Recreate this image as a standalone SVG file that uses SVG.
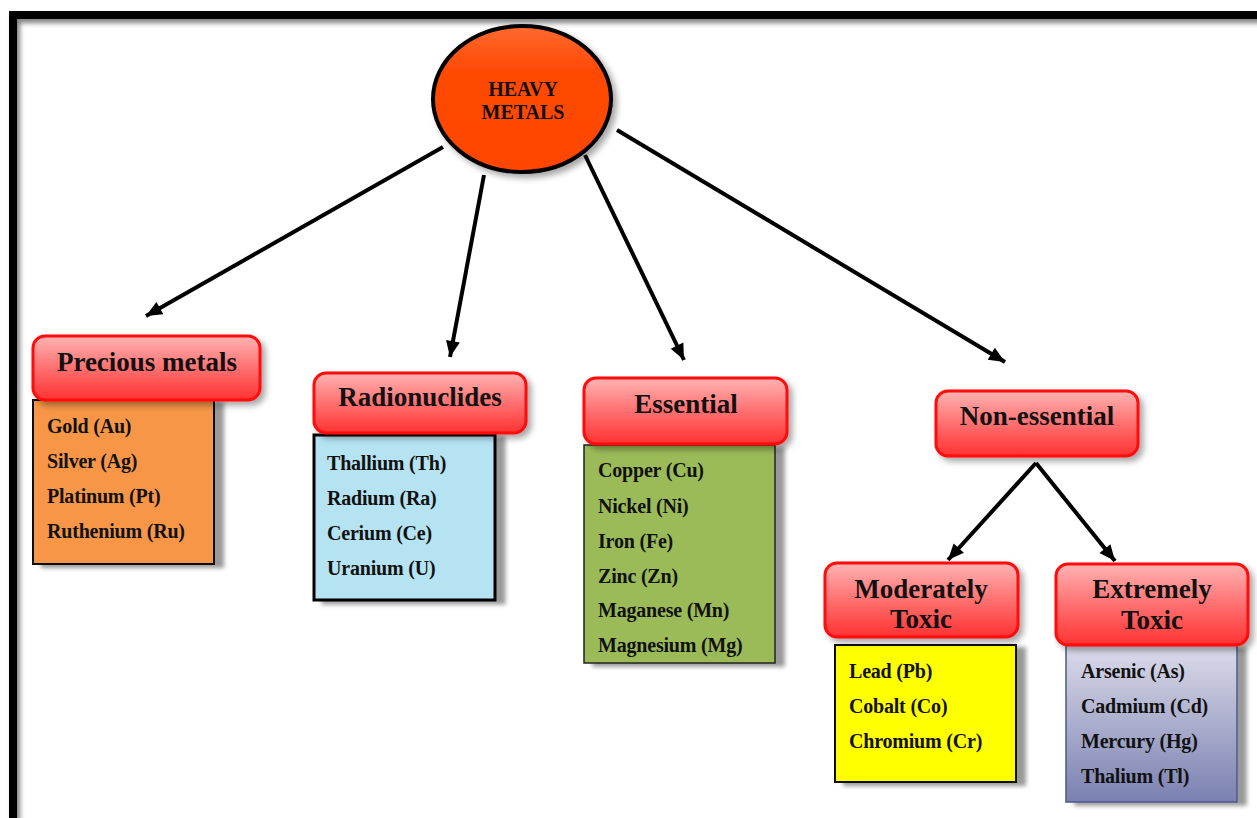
<svg xmlns="http://www.w3.org/2000/svg" width="1257" height="818" viewBox="0 0 1257 818">
<style>
.hdr{fill:url(#hdrGrad);stroke:#ff0a0a;stroke-width:3;filter:url(#sh)}
.ht{font-family:"Liberation Serif","Times New Roman",serif;font-weight:bold;font-size:27px;fill:#111;text-anchor:middle}
.it{font-family:"Liberation Serif","Times New Roman",serif;font-weight:bold;font-size:20px;fill:#111;letter-spacing:-0.2px}
.box{filter:url(#sh2)}
.con{stroke:#000;stroke-width:4;fill:none;marker-end:url(#ah)}
</style>
<defs>
<linearGradient id="hdrGrad" x1="0" y1="0" x2="0" y2="1">
<stop offset="0" stop-color="#ffb3b3"/>
<stop offset="0.5" stop-color="#ff7070"/>
<stop offset="1" stop-color="#ff3232"/>
</linearGradient>
<linearGradient id="ellGrad" x1="0" y1="0" x2="0" y2="1">
<stop offset="0" stop-color="#ff6a30"/>
<stop offset="0.3" stop-color="#ff4a05"/>
<stop offset="1" stop-color="#ff4500"/>
</linearGradient>
<linearGradient id="lavGrad" x1="0" y1="0" x2="0" y2="1">
<stop offset="0" stop-color="#dcdcea"/>
<stop offset="1" stop-color="#7a80b0"/>
</linearGradient>
<filter id="sh" x="-20%" y="-20%" width="150%" height="160%">
<feDropShadow dx="4" dy="4" stdDeviation="3" flood-color="#000" flood-opacity="0.35"/>
</filter>
<filter id="sh2" x="-20%" y="-20%" width="150%" height="150%">
<feDropShadow dx="9" dy="3" stdDeviation="2" flood-color="#000" flood-opacity="0.4"/>
</filter>
<filter id="fsh" x="-5%" y="-5%" width="110%" height="110%">
<feDropShadow dx="3" dy="4" stdDeviation="2.5" flood-color="#000" flood-opacity="0.5"/>
</filter>
<marker id="ah" markerUnits="userSpaceOnUse" markerWidth="20" markerHeight="20" viewBox="0 0 20 20" refX="18" refY="10" orient="auto">
<path d="M2,3 L18,10 L2,17 Z" fill="#000"/>
</marker>
</defs>
<rect width="1257" height="818" fill="#fff"/>
<g id="frame">
<path d="M13,818 V15 H1260" fill="none" stroke="#000" stroke-width="8" filter="url(#fsh)"/>
</g>
<g id="connectors">
<line class="con" x1="443" y1="147" x2="146" y2="316"/>
<line class="con" x1="484" y1="175" x2="450" y2="357"/>
<line class="con" x1="585" y1="155" x2="684" y2="360"/>
<line class="con" x1="617" y1="130" x2="1005" y2="362"/>
<line class="con" x1="1036" y1="463" x2="948" y2="560"/>
<line class="con" x1="1036" y1="463" x2="1115" y2="561"/>
</g>
<g id="heavy-metals">
<ellipse cx="522" cy="99" rx="89" ry="73" fill="url(#ellGrad)" stroke="#000" stroke-width="4" filter="url(#sh)"/>
<text x="523" y="96" font-family="Liberation Serif,serif" font-weight="bold" font-size="20" text-anchor="middle" fill="#111">HEAVY</text>
<text x="523" y="119" font-family="Liberation Serif,serif" font-weight="bold" font-size="20" text-anchor="middle" fill="#111">METALS</text>
</g>
<g id="precious">
<rect class="box" x="33" y="400" width="181" height="164" fill="#f79646" stroke="#111" stroke-width="2"/>
<rect class="hdr" x="33" y="336" width="227" height="64" rx="12"/>
<text class="ht" x="147" y="371">Precious metals</text>
<text class="it" x="47" y="433">Gold (Au)</text>
<text class="it" x="47" y="468">Silver (Ag)</text>
<text class="it" x="47" y="503">Platinum (Pt)</text>
<text class="it" x="47" y="538">Ruthenium (Ru)</text>
</g>
<g id="radionuclides">
<rect class="box" x="314" y="435" width="181" height="165" fill="#b5e3f2" stroke="#000" stroke-width="3"/>
<rect class="hdr" x="314" y="373" width="212" height="60" rx="12"/>
<text class="ht" x="420" y="406">Radionuclides</text>
<text class="it" x="327" y="470">Thallium (Th)</text>
<text class="it" x="327" y="505">Radium (Ra)</text>
<text class="it" x="327" y="540">Cerium (Ce)</text>
<text class="it" x="327" y="575">Uranium (U)</text>
</g>
<g id="essential">
<rect class="box" x="584" y="445" width="191" height="218" fill="#9bbb59" stroke="#222" stroke-width="1.5"/>
<rect class="hdr" x="584" y="378" width="203" height="66" rx="12"/>
<text class="ht" x="686" y="413">Essential</text>
<text class="it" x="598" y="477">Copper (Cu)</text>
<text class="it" x="598" y="513">Nickel (Ni)</text>
<text class="it" x="598" y="548">Iron (Fe)</text>
<text class="it" x="598" y="583">Zinc (Zn)</text>
<text class="it" x="598" y="617">Maganese (Mn)</text>
<text class="it" x="598" y="652">Magnesium (Mg)</text>
</g>
<g id="non-essential">
<rect class="hdr" x="936" y="391" width="202" height="65" rx="12"/>
<text class="ht" x="1037" y="425">Non-essential</text>
</g>
<g id="moderately-toxic">
<rect class="box" x="835" y="645" width="181" height="137" fill="#ffff00" stroke="#111" stroke-width="2"/>
<rect class="hdr" x="825" y="563" width="193" height="74" rx="12"/>
<text class="ht" x="921" y="598">Moderately</text>
<text class="ht" x="921" y="628">Toxic</text>
<text class="it" x="849" y="678">Lead (Pb)</text>
<text class="it" x="849" y="713">Cobalt (Co)</text>
<text class="it" x="849" y="748">Chromium (Cr)</text>
</g>
<g id="extremely-toxic">
<rect class="box" x="1066" y="645" width="171" height="157" fill="url(#lavGrad)" stroke="#4a5a8a" stroke-width="1.5"/>
<rect class="hdr" x="1056" y="564" width="192" height="81" rx="12"/>
<text class="ht" x="1152" y="598">Extremely</text>
<text class="ht" x="1152" y="629">Toxic</text>
<text class="it" x="1081" y="678">Arsenic (As)</text>
<text class="it" x="1081" y="713">Cadmium (Cd)</text>
<text class="it" x="1081" y="748">Mercury (Hg)</text>
<text class="it" x="1081" y="783">Thalium (Tl)</text>
</g>
</svg>
